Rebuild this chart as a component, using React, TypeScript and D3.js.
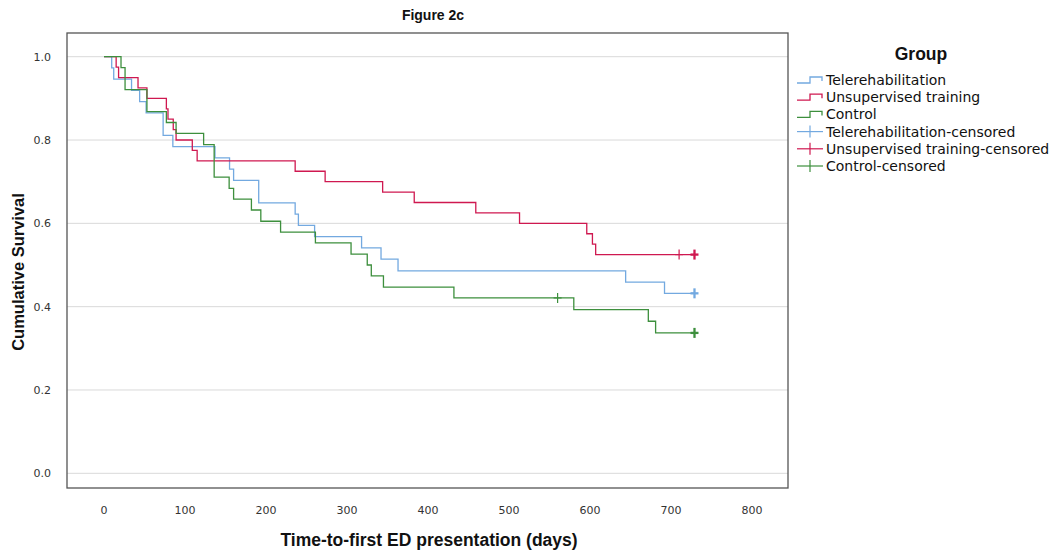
import React from "react";
import * as d3 from "d3";

// ---- Data (Kaplan–Meier step points) ----
const GROUPS = ["Telerehabilitation", "Unsupervised training", "Control"];
const COLORS = ["#73a9e0", "#cf1850", "#3d8f3d"];

const teleTimes = [0, 9.5, 12, 34, 44, 52, 73, 85, 137, 155, 160, 191, 236, 240, 260, 318, 342, 363, 644, 692];
const teleSurv = [1.0, 0.973, 0.946, 0.919, 0.892, 0.865, 0.811, 0.784, 0.757, 0.73, 0.703, 0.649, 0.622, 0.595, 0.568, 0.541, 0.514, 0.486, 0.459, 0.432];
const teleCensorTimes = [729];
const teleCensorCounts = [16];

const unsupTimes = [0, 15, 18, 42, 53, 77, 79, 85.5, 89, 109, 115, 236, 273, 344, 383, 459, 513, 596, 603, 607];
const unsupSurv = [1.0, 0.975, 0.95, 0.925, 0.9, 0.875, 0.85, 0.825, 0.8, 0.775, 0.75, 0.725, 0.7, 0.675, 0.65, 0.625, 0.6, 0.575, 0.55, 0.525];
const unsupCensorTimes = [710, 729];
const unsupCensorCounts = [1, 20];

const ctrlTimes = [0, 21, 26, 53, 77, 89, 123, 136, 154.5, 160, 182, 193.6, 218, 261, 305, 325, 330, 345, 432, 580, 672, 681];
const ctrlSurv = [1.0, 0.974, 0.921, 0.868, 0.842, 0.816, 0.789, 0.711, 0.684, 0.658, 0.632, 0.605, 0.579, 0.553, 0.526, 0.5, 0.474, 0.447, 0.421, 0.393, 0.365, 0.337];
const ctrlCensorTimes = [560, 729];
const ctrlCensorCounts = [1, 12];

const X_TICKS = [0, 100, 200, 300, 400, 500, 600, 700, 800];
const Y_TICKS = [0, 0.2, 0.4, 0.6, 0.8, 1.0];

const TITLE = "Figure 2c";
const X_TITLE = "Time-to-first ED presentation (days)";
const Y_TITLE = "Cumulative Survival";
const LEGEND_TITLE = "Group";

const series = [
  { times: teleTimes, surv: teleSurv, cTimes: teleCensorTimes, cCounts: teleCensorCounts },
  { times: unsupTimes, surv: unsupSurv, cTimes: unsupCensorTimes, cCounts: unsupCensorCounts },
  { times: ctrlTimes, surv: ctrlSurv, cTimes: ctrlCensorTimes, cCounts: ctrlCensorCounts },
];

function survAt(times: number[], surv: number[], t: number) {
  let v = surv[0];
  for (let i = 0; i < times.length; i++) if (times[i] <= t) v = surv[i];
  return v;
}

export default function App() {
  const W = 1050;
  const H = 552;
  const frame = { left: 67, right: 788, top: 33, bottom: 488 };
  const x = d3.scaleLinear().domain([0, 800]).range([104, 752]);
  const y = d3.scaleLinear().domain([0, 1]).range([473.3, 56.7]);

  const line = d3
    .line<[number, number]>()
    .x((d) => x(d[0]))
    .y((d) => y(d[1]))
    .curve(d3.curveStepAfter);

  const tickFont = "'DejaVu Sans', sans-serif";
  const labelFont = "'Liberation Sans', Arial, sans-serif";
  const legendFont = "'DejaVu Sans', sans-serif";

  const legendX = 797;
  const legendY0 = 80;
  const legendDy = 17.2;
  const legendItems = [
    ...GROUPS.map((g, i) => ({ label: g, color: COLORS[i], kind: "step" })),
    ...GROUPS.map((g, i) => ({ label: g + "-censored", color: COLORS[i], kind: "censor" })),
  ];

  return (
    <svg
      width={W}
      height={H}
      style={{ position: "absolute", left: 0, top: 0, background: "#fff" }}
    >
      <rect x={0} y={0} width={W} height={H} fill="#fff" />
      <text
        x={433}
        y={20}
        textAnchor="middle"
        fontFamily={labelFont}
        fontWeight="bold"
        fontSize={14}
        fill="#111"
      >
        {TITLE}
      </text>

      {/* gridlines */}
      {Y_TICKS.map((t) => (
        <line
          key={"g" + t}
          x1={frame.left}
          x2={frame.right}
          y1={y(t)}
          y2={y(t)}
          stroke="#d9d9d9"
          strokeWidth={1}
        />
      ))}

      {/* frame */}
      <rect
        x={frame.left}
        y={frame.top}
        width={frame.right - frame.left}
        height={frame.bottom - frame.top}
        fill="none"
        stroke="#555"
        strokeWidth={1.3}
      />

      {/* y tick labels */}
      {Y_TICKS.map((t) => (
        <text
          key={"yl" + t}
          x={51}
          y={y(t) + 4}
          textAnchor="end"
          fontFamily={tickFont}
          fontSize={11}
          fill="#333"
        >
          {t.toFixed(1)}
        </text>
      ))}

      {/* x tick labels */}
      {X_TICKS.map((t) => (
        <text
          key={"xl" + t}
          x={x(t)}
          y={514}
          textAnchor="middle"
          fontFamily={tickFont}
          fontSize={11}
          fill="#333"
        >
          {t}
        </text>
      ))}

      {/* axis titles */}
      <text
        x={429}
        y={546}
        textAnchor="middle"
        fontFamily={labelFont}
        fontWeight="bold"
        fontSize={17.5}
        fill="#111"
      >
        {X_TITLE}
      </text>
      <text
        transform={`translate(24,272) rotate(-90)`}
        textAnchor="middle"
        fontFamily={labelFont}
        fontWeight="bold"
        fontSize={16.5}
        fill="#111"
      >
        {Y_TITLE}
      </text>

      {/* curves */}
      {series.map((s, i) => {
        const end = Math.max(...s.cTimes);
        const pts: [number, number][] = s.times.map((t, j) => [t, s.surv[j]] as [number, number]);
        pts.push([end, s.surv[s.surv.length - 1]]);
        return (
          <path
            key={"c" + i}
            d={line(pts) || ""}
            fill="none"
            stroke={COLORS[i]}
            strokeWidth={1.3}
          />
        );
      })}

      {/* censor marks */}
      {series.map((s, i) =>
        s.cTimes.map((t, j) => {
          const cx = x(t);
          const cy = y(survAt(s.times, s.surv, t));
          const sw = s.cCounts[j] > 1 ? 2.3 : 1.2;
          return (
            <g key={"m" + i + "-" + j} stroke={COLORS[i]} strokeWidth={sw}>
              <line x1={cx} x2={cx} y1={cy - 5} y2={cy + 5} />
              <line x1={cx - 4} x2={cx + 4} y1={cy} y2={cy} />
            </g>
          );
        })
      )}

      {/* legend */}
      <text
        x={921}
        y={60}
        textAnchor="middle"
        fontFamily={labelFont}
        fontWeight="bold"
        fontSize={17.5}
        fill="#111"
      >
        {LEGEND_TITLE}
      </text>
      {legendItems.map((it, k) => {
        const cy = legendY0 + k * legendDy;
        return (
          <g key={"lg" + k}>
            {it.kind === "step" ? (
              <path
                d={`M${legendX},${cy + 3}H${legendX + 13}V${cy - 3}H${legendX + 25}V${cy + 1}`}
                fill="none"
                stroke={it.color}
                strokeWidth={1.3}
              />
            ) : (
              <g stroke={it.color} strokeWidth={1.2}>
                <line x1={legendX} x2={legendX + 26} y1={cy} y2={cy} />
                <line x1={legendX + 13} x2={legendX + 13} y1={cy - 6} y2={cy + 6} />
              </g>
            )}
            <text
              x={826}
              y={cy + 5}
              fontFamily={legendFont}
              fontSize={14}
              fill="#111"
            >
              {it.label}
            </text>
          </g>
        );
      })}
    </svg>
  );
}
